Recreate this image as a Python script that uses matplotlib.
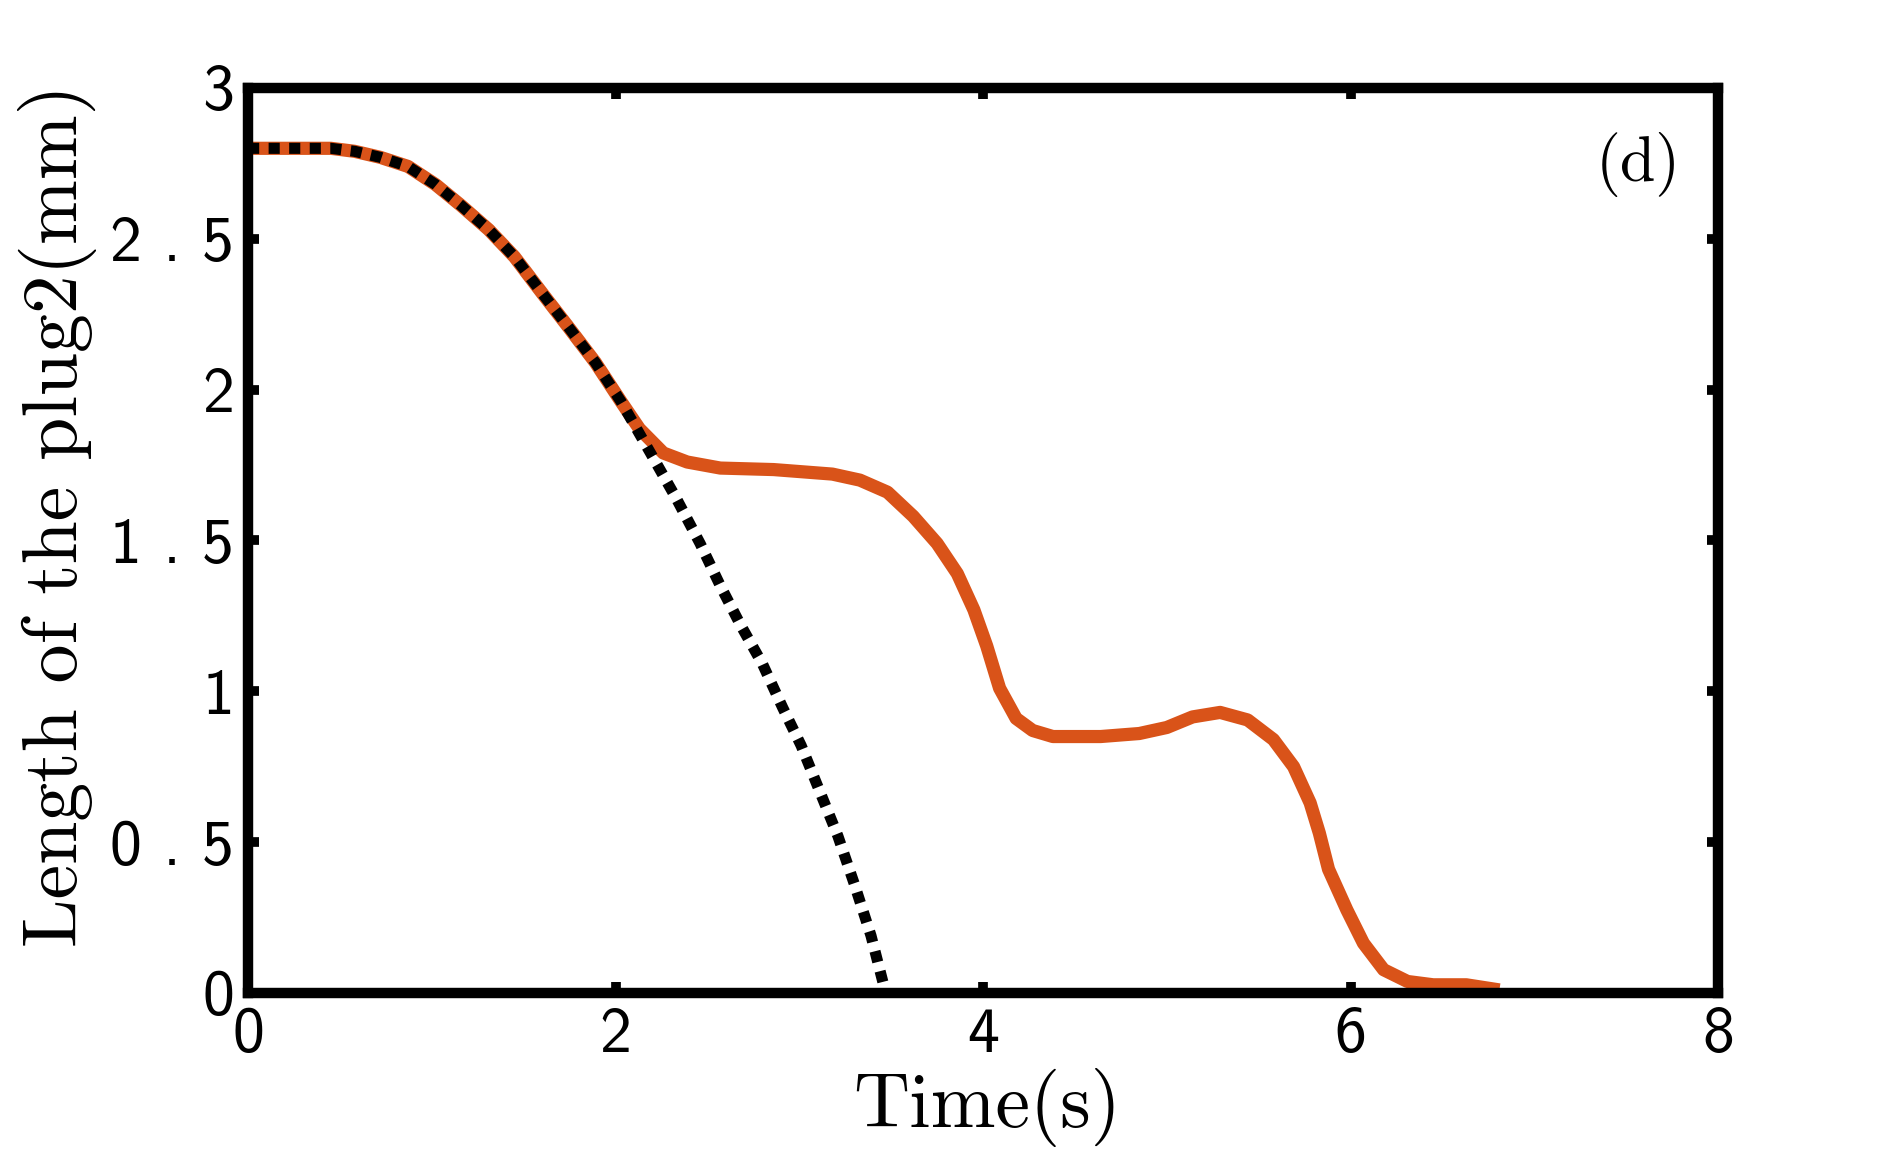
import matplotlib
matplotlib.use('Agg')
import matplotlib.pyplot as plt

# numerical result (orange)
t_num = [0, 0.45, 0.58, 0.72, 0.87, 1.02, 1.16, 1.31, 1.45, 1.60, 1.74, 1.89, 2.03,
         2.13, 2.26, 2.39, 2.57, 2.86, 3.18, 3.33, 3.48, 3.62, 3.75, 3.86, 3.95, 4.02,
         4.09, 4.18, 4.27, 4.38, 4.64, 4.85, 5.00, 5.14, 5.29, 5.44, 5.58, 5.69, 5.78,
         5.83, 5.88, 5.98, 6.07, 6.18, 6.31, 6.45, 6.63, 6.81]
len_num = [2.80, 2.80, 2.79, 2.77, 2.74, 2.68, 2.61, 2.53, 2.44, 2.32, 2.21, 2.09, 1.96,
           1.87, 1.79, 1.76, 1.74, 1.735, 1.72, 1.70, 1.66, 1.58, 1.49, 1.39, 1.27, 1.15,
           1.01, 0.91, 0.87, 0.85, 0.85, 0.86, 0.88, 0.915, 0.93, 0.905, 0.84, 0.75, 0.63,
           0.53, 0.41, 0.275, 0.165, 0.077, 0.038, 0.027, 0.027, 0.01]

# model (black dotted)
t_mod = [0, 0.45, 0.58, 0.72, 0.87, 1.02, 1.16, 1.31, 1.45, 1.60, 1.74, 1.89, 2.03,
         2.19, 2.33, 2.46, 2.57, 2.68, 2.80, 2.91, 3.01, 3.11, 3.21, 3.30, 3.39, 3.47]
len_mod = [2.80, 2.80, 2.79, 2.77, 2.74, 2.68, 2.61, 2.53, 2.44, 2.32, 2.21, 2.09, 1.96,
           1.79, 1.64, 1.49, 1.35, 1.22, 1.09, 0.945, 0.82, 0.67, 0.52, 0.36, 0.19, 0.0]

xticks = [0, 2, 4, 6, 8]
yticks = [0, 0.5, 1, 1.5, 2, 2.5, 3]
ytick_labels = ['0', '0 . 5', '1', '1 . 5', '2', '2 . 5', '3']

fig = plt.figure(figsize=(18.98, 11.73), dpi=100)
ax = fig.add_axes([0.1307, 0.1535, 0.7745, 0.7715])

ax.plot(t_num, len_num, color='#D95319', lw=9.5, solid_capstyle='butt',
        solid_joinstyle='round', zorder=2)
ax.plot(t_mod, len_mod, color='black', lw=8, linestyle=(0, (1, 0.85)),
        dash_capstyle='butt', dash_joinstyle='round', zorder=3)

ax.set_xlim(0, 8)
ax.set_ylim(0, 3)
ax.set_xticks(xticks)
ax.set_yticks(yticks)
ax.set_xticklabels([str(v) for v in xticks])
ax.set_yticklabels(ytick_labels)

for s in ax.spines.values():
    s.set_linewidth(7.5)

ax.tick_params(direction='in', length=8, width=7, top=True, right=True,
               labelsize=46, pad=10)
for lab in ax.get_xticklabels() + ax.get_yticklabels():
    lab.set_family('cmss10')

ax.set_xlabel('Time(s)', family='cmr10', fontsize=56)
ax.set_ylabel('Length of the plug2(mm)', family='cmr10', fontsize=56)
ax.xaxis.set_label_coords(0.503, -0.083)
ax.yaxis.set_label_coords(-0.103, 0.527)

ax.text(0.975, 0.915, '(d)', transform=ax.transAxes, family='cmr10',
        fontsize=46, ha='right', va='center')

fig.savefig('out.png', dpi=100)
